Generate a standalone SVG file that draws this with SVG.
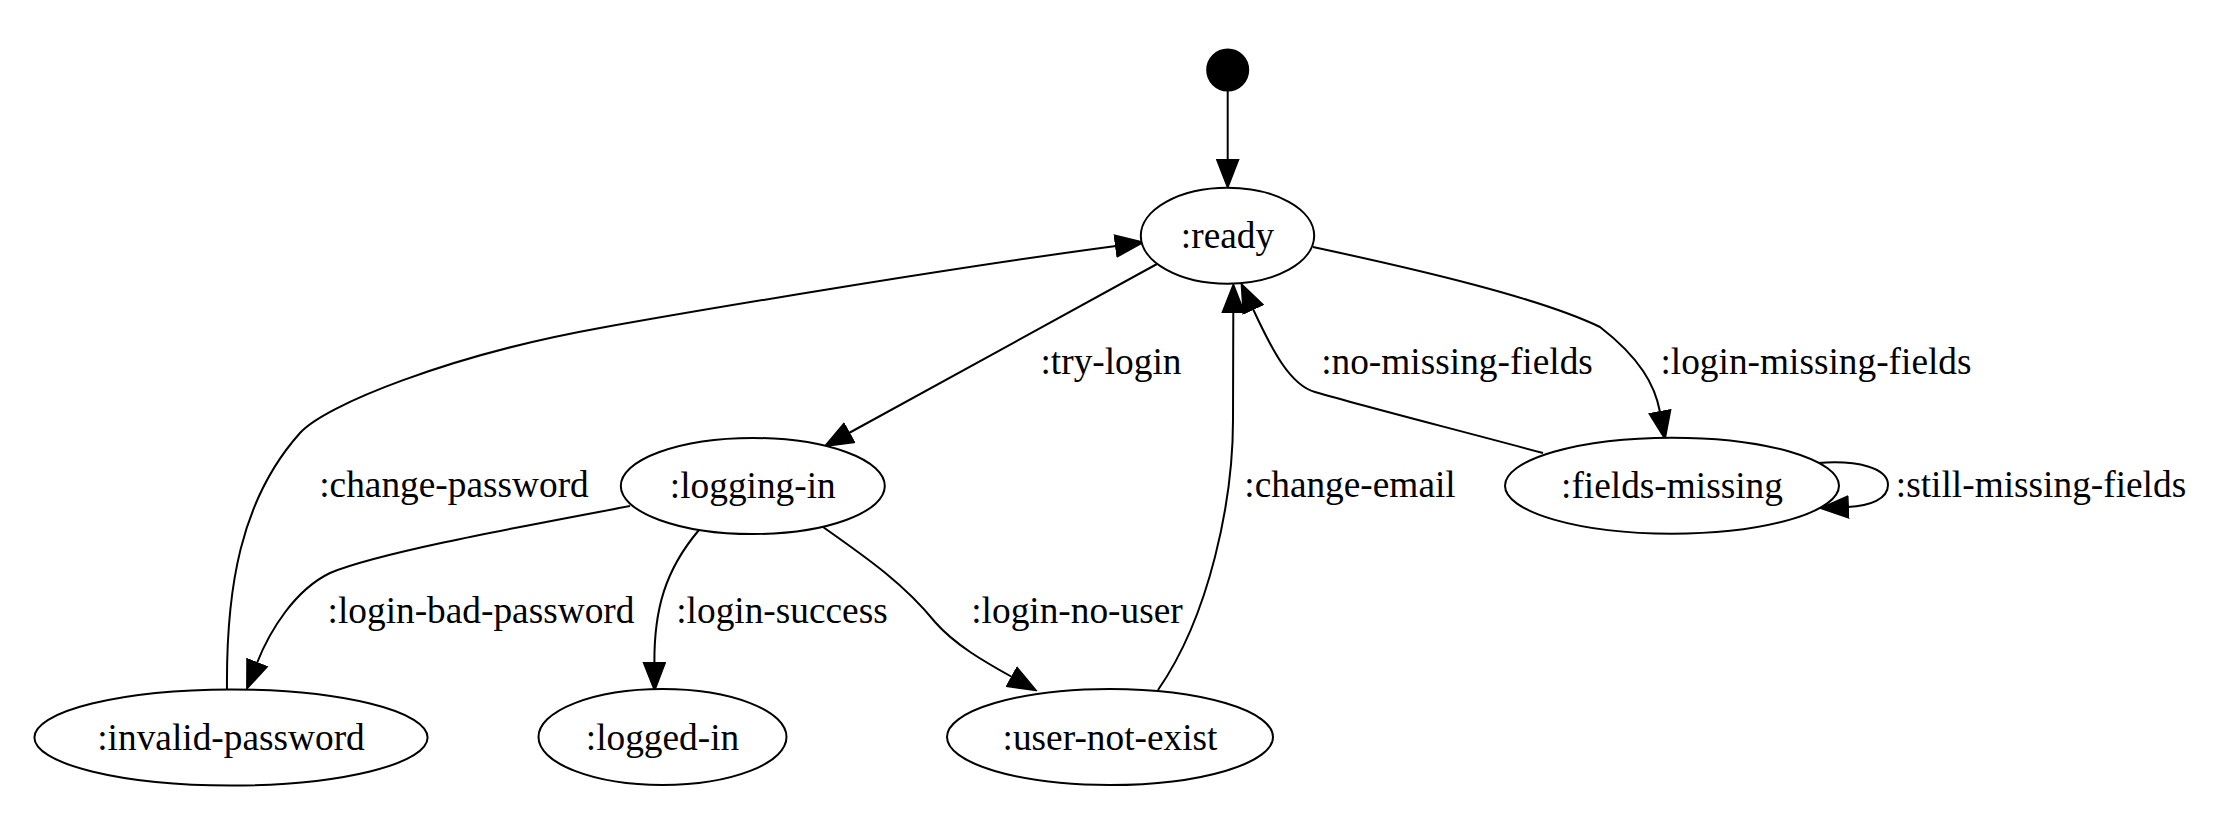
<svg xmlns="http://www.w3.org/2000/svg" width="2232" height="822" viewBox="0 0 2232 822">
<style>
.node ellipse{fill:#fff;stroke:#000;stroke-width:2}
text{font-size:37.33px;fill:#000;text-anchor:middle}
.edges path{fill:none;stroke:#000;stroke-width:2;marker-end:url(#ah)}
</style>
<defs>
<marker id="ah" markerUnits="userSpaceOnUse" markerWidth="30" markerHeight="24" viewBox="0 0 30 24" refX="1" refY="12" orient="auto">
<path d="M1,1.5 L28,12 L1,22.5 Z" fill="#000" stroke="#000" stroke-width="2"/>
</marker>
</defs>
<rect width="2232" height="822" fill="#fff"/>
<g id="edges" class="edges">
<path id="e-init" d="M1227.7,90.5 L1227.7,160"/>
<path id="e-try-login" d="M1157,264 L849,433"/>
<path id="e-change-password" d="M227,690 C226,590 240,500 300,433 C325,405 450,355 600,328 C700,310 950,268 1116,246"/>
<path id="e-login-missing-fields" d="M1313,247 C1420,270 1540,298 1600,327 C1640,358 1655,385 1660,412"/>
<path id="e-no-missing-fields" d="M1543,453 C1450,428 1370,408 1315,392 C1290,385 1272,350 1253,309"/>
<path id="e-change-email" d="M1158,690 C1210,615 1233,500 1233,420 L1233.3,312"/>
<path id="e-login-bad-password" d="M630,506 C530,525 380,552 330,573 C295,590 270,630 257,663"/>
<path id="e-login-success" d="M699,530 C665,570 654,610 654.4,663"/>
<path id="e-login-no-user" d="M823,527 C870,560 905,585 935,622 C955,645 985,662 1012,677"/>
<path id="e-still-missing-fields" d="M1818,463 C1858,460 1888,468 1888,485 C1888,499 1870,506 1848,507"/>
<g id="edge-labels" font-family="Liberation Serif, Times New Roman, Times, serif">
<text x="1111" y="374">:try-login</text>
<text x="1457" y="374">:no-missing-fields</text>
<text x="1816" y="374">:login-missing-fields</text>
<text x="454" y="497">:change-password</text>
<text x="1350" y="497">:change-email</text>
<text x="2041" y="497">:still-missing-fields</text>
<text x="481" y="623">:login-bad-password</text>
<text x="782" y="623">:login-success</text>
<text x="1077" y="623">:login-no-user</text>
</g>
</g>
<g font-family="Liberation Serif, Times New Roman, Times, serif">
<g id="init" class="node"><circle cx="1227.7" cy="70" r="20.5" fill="#000" stroke="#000" stroke-width="2"/></g>
<g id="ready" class="node"><ellipse cx="1227.5" cy="235.7" rx="86.7" ry="48"/><text x="1227.5" y="248">:ready</text></g>
<g id="logging-in" class="node"><ellipse cx="752.8" cy="486" rx="132" ry="48"/><text x="752.8" y="498">:logging-in</text></g>
<g id="fields-missing" class="node"><ellipse cx="1672" cy="485.7" rx="167" ry="48"/><text x="1672" y="498">:fields-missing</text></g>
<g id="invalid-password" class="node"><ellipse cx="231" cy="737.5" rx="196.6" ry="48"/><text x="231" y="749.5">:invalid-password</text></g>
<g id="logged-in" class="node"><ellipse cx="662.5" cy="737" rx="124" ry="48"/><text x="662.5" y="749.5">:logged-in</text></g>
<g id="user-not-exist" class="node"><ellipse cx="1110" cy="737" rx="163" ry="48"/><text x="1110" y="749.5">:user-not-exist</text></g>
</g>
</svg>
